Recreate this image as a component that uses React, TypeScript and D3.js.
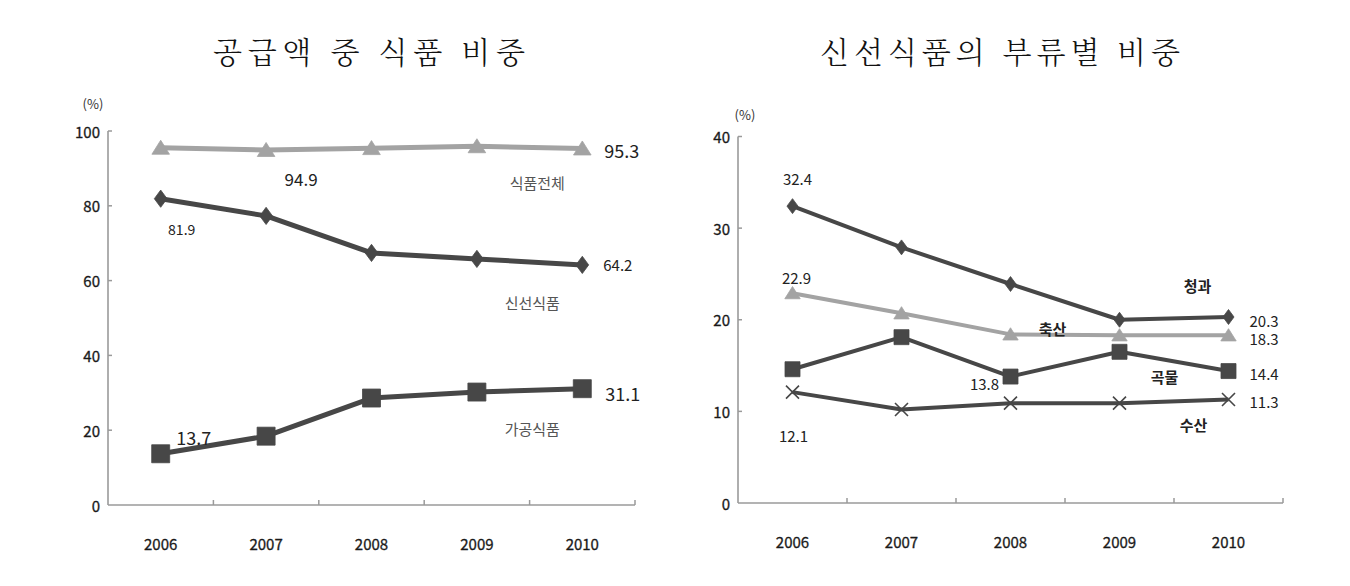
import React from "react";
import * as d3 from "d3";

const years = ["2006", "2007", "2008", "2009", "2010"];

// Left chart: 공급액 중 식품 비중
const totalFood = [95.5, 94.9, 95.4, 95.9, 95.3]; // 식품전체
const freshFood = [81.9, 77.3, 67.4, 65.8, 64.2]; // 신선식품
const processedFood = [13.7, 18.4, 28.6, 30.2, 31.1]; // 가공식품
const leftTicks = [0, 20, 40, 60, 80, 100];

// Right chart: 신선식품의 부류별 비중
const fruitVeg = [32.4, 27.9, 23.9, 20.0, 20.3]; // 청과
const livestock = [22.9, 20.7, 18.4, 18.3, 18.3]; // 축산
const grain = [14.6, 18.1, 13.8, 16.5, 14.4]; // 곡물
const seafood = [12.1, 10.2, 10.9, 10.9, 11.3]; // 수산
const rightTicks = [0, 10, 20, 30, 40];

const DARK = "#474747";
const LIGHT = "#a3a3a3";
const AXIS = "#9a9a9a";
const KFONT = "'Noto Sans CJK KR', 'Noto Sans', sans-serif";
const NFONT = "'Liberation Sans Narrow', 'Noto Sans CJK KR', sans-serif";

type Marker = "tri" | "dia" | "sq" | "x";

function markerPath(kind: Marker, cx: number, cy: number, s: number): string {
  const h = s / 2;
  switch (kind) {
    case "tri":
      return `M${cx},${cy - h * 0.95}L${cx + h * 1.1},${cy + h * 0.8}L${cx - h * 1.1},${cy + h * 0.8}Z`;
    case "dia":
      return `M${cx},${cy - h * 1.15}L${cx + h * 0.85},${cy}L${cx},${cy + h * 1.15}L${cx - h * 0.85},${cy}Z`;
    case "sq":
      return `M${cx - h},${cy - h}H${cx + h}V${cy + h}H${cx - h}Z`;
    case "x":
      return `M${cx - h},${cy - h}L${cx + h},${cy + h}M${cx + h},${cy - h}L${cx - h},${cy + h}`;
  }
}

interface SeriesDef {
  values: number[];
  color: string;
  marker: Marker;
  size: number;
  width: number;
}

function Axes({ x, y, ticks, x0, x1, y0, y1 }: any) {
  const bounds = years.map((yr: string) => (x(yr) as number) + x.bandwidth());
  return (
    <g>
      <line x1={x0} y1={y1} x2={x0} y2={y0} stroke={AXIS} strokeWidth={1.6} />
      <line x1={x0} y1={y0} x2={x1} y2={y0} stroke={AXIS} strokeWidth={1.6} />
      {ticks.map((t: number) => (
        <g key={t}>
          {t > 0 && <line x1={x0} x2={x0 + 4} y1={y(t)} y2={y(t)} stroke={AXIS} strokeWidth={1.5} />}
          <text x={x0 - 8} y={y(t)} textAnchor="end" dominantBaseline="central" fontSize={15} fontFamily={KFONT} fill="#1a1a1a" stroke="#1a1a1a" strokeWidth={0.3}>
            {t}
          </text>
        </g>
      ))}
      {bounds.map((bx: number, i: number) => (
        <line key={i} x1={bx} x2={bx} y1={y0} y2={y0 - 5} stroke={AXIS} strokeWidth={1.5} />
      ))}
      {years.map((yr: string) => (
        <text key={yr} x={(x(yr) as number) + x.bandwidth() / 2} y={y0 + 38} textAnchor="middle" dominantBaseline="central" fontSize={15} fontFamily={KFONT} fill="#1a1a1a" stroke="#1a1a1a" strokeWidth={0.3}>
          {yr}
        </text>
      ))}
    </g>
  );
}

function Series({ s, x, y }: { s: SeriesDef; x: any; y: any }) {
  const cx = (i: number) => (x(years[i]) as number) + x.bandwidth() / 2;
  const line = d3
    .line<number>()
    .x((_, i) => cx(i))
    .y((v) => y(v));
  return (
    <g>
      <path d={line(s.values) || ""} fill="none" stroke={s.color} strokeWidth={s.width} strokeLinejoin="round" />
      {s.values.map((v, i) =>
        s.marker === "x" ? (
          <path key={i} d={markerPath("x", cx(i), y(v), s.size)} stroke={s.color} strokeWidth={1.6} fill="none" />
        ) : (
          <path key={i} d={markerPath(s.marker, cx(i), y(v), s.size)} fill={s.color} stroke={s.color} strokeWidth={0.8} />
        )
      )}
    </g>
  );
}

export default function App() {
  // Left chart geometry
  const L = { x0: 108, x1: 635, y0: 505, y1: 131 };
  const xL = d3.scaleBand<string>().domain(years).range([L.x0, L.x1]).padding(0);
  const yL = d3.scaleLinear().domain([0, 100]).range([L.y0, L.y1]);
  const cxL = (i: number) => (xL(years[i]) as number) + xL.bandwidth() / 2;

  // Right chart geometry
  const R = { x0: 738, x1: 1283, y0: 503, y1: 136.5 };
  const xR = d3.scaleBand<string>().domain(years).range([R.x0, R.x1]).padding(0);
  const yR = d3.scaleLinear().domain([0, 40]).range([R.y0, R.y1]);
  const cxR = (i: number) => (xR(years[i]) as number) + xR.bandwidth() / 2;

  const leftSeries: SeriesDef[] = [
    { values: totalFood, color: LIGHT, marker: "tri", size: 16, width: 5 },
    { values: freshFood, color: DARK, marker: "dia", size: 15, width: 5 },
    { values: processedFood, color: DARK, marker: "sq", size: 18, width: 5 },
  ];
  const rightSeries: SeriesDef[] = [
    { values: livestock, color: LIGHT, marker: "tri", size: 14, width: 4 },
    { values: seafood, color: DARK, marker: "x", size: 13, width: 4 },
    { values: grain, color: DARK, marker: "sq", size: 15, width: 4 },
    { values: fruitVeg, color: DARK, marker: "dia", size: 13, width: 4 },
  ];

  const lbl = (props: any, txt: string) => (
    <text dominantBaseline="central" fill="#222" {...props}>
      {txt}
    </text>
  );

  return (
    <svg width={1350} height={586} style={{ position: "absolute", left: 0, top: 0, background: "#fff" }}>
      <rect width={1350} height={586} fill="#fff" />
      {/* Titles */}
      <text x={369} y={50} textAnchor="middle" dominantBaseline="central" fontSize={30} fontFamily="'Noto Serif CJK KR', 'Noto Sans CJK KR', serif" fontWeight={300} fill="#111" textLength={312} lengthAdjust="spacing">
        공급액 중 식품 비중
      </text>
      <text x={1000} y={50} textAnchor="middle" dominantBaseline="central" fontSize={30} fontFamily="'Noto Serif CJK KR', 'Noto Sans CJK KR', serif" fontWeight={300} fill="#111" textLength={360} lengthAdjust="spacing">
        신선식품의 부류별 비중
      </text>

      {/* Left chart */}
      <text x={93} y={103} textAnchor="middle" dominantBaseline="central" fontSize={13} fontFamily={KFONT} fill="#333">(%)</text>
      <Axes x={xL} y={yL} ticks={leftTicks} {...L} />
      {leftSeries.map((s, i) => (
        <Series key={i} s={s} x={xL} y={yL} />
      ))}
      {lbl({ x: cxL(4) + 22, y: yL(totalFood[4]) + 1, fontSize: 18, fontFamily: KFONT }, "95.3")}
      {lbl({ x: cxL(1) + 35, y: yL(totalFood[1]) + 28, fontSize: 17, fontFamily: KFONT, textAnchor: "middle" }, "94.9")}
      {lbl({ x: cxL(4) - 45, y: yL(totalFood[4]) + 34, fontSize: 15, fontFamily: KFONT, textAnchor: "middle", fill: "#555" }, "식품전체")}
      {lbl({ x: cxL(0) + 21, y: yL(freshFood[0]) + 30, fontSize: 14, fontFamily: KFONT, textAnchor: "middle" }, "81.9")}
      {lbl({ x: cxL(4) + 21, y: yL(freshFood[4]), fontSize: 15, fontFamily: KFONT }, "64.2")}
      {lbl({ x: cxL(4) - 50, y: yL(freshFood[4]) + 38, fontSize: 15, fontFamily: KFONT, textAnchor: "middle", fill: "#555" }, "신선식품")}
      {lbl({ x: cxL(0) + 33, y: yL(processedFood[0]) - 17, fontSize: 18, fontFamily: KFONT, textAnchor: "middle" }, "13.7")}
      {lbl({ x: cxL(4) + 23, y: yL(processedFood[4]) + 4, fontSize: 18, fontFamily: KFONT }, "31.1")}
      {lbl({ x: cxL(4) - 50, y: yL(processedFood[4]) + 40, fontSize: 15, fontFamily: KFONT, textAnchor: "middle", fill: "#555" }, "가공식품")}

      {/* Right chart */}
      <text x={745} y={114} textAnchor="middle" dominantBaseline="central" fontSize={13} fontFamily={KFONT} fill="#333">(%)</text>
      <Axes x={xR} y={yR} ticks={rightTicks} {...R} />
      {rightSeries.map((s, i) => (
        <Series key={i} s={s} x={xR} y={yR} />
      ))}
      {lbl({ x: cxR(0) + 5, y: yR(fruitVeg[0]) - 28, fontSize: 15, fontFamily: NFONT, textAnchor: "middle" }, "32.4")}
      {lbl({ x: cxR(0) + 4, y: yR(livestock[0]) - 16, fontSize: 15, fontFamily: NFONT, textAnchor: "middle" }, "22.9")}
      {lbl({ x: cxR(4) - 31, y: yR(fruitVeg[4]) - 32, fontSize: 15, fontFamily: KFONT, fontWeight: 700, textAnchor: "middle", fill: "#222" }, "청과")}
      {lbl({ x: cxR(4) + 21, y: yR(fruitVeg[4]) + 3, fontSize: 15, fontFamily: NFONT }, "20.3")}
      {lbl({ x: cxR(2) + 42, y: yR(livestock[2]) - 6, fontSize: 15, fontFamily: KFONT, fontWeight: 700, textAnchor: "middle", fill: "#222" }, "축산")}
      {lbl({ x: cxR(4) + 21, y: yR(livestock[4]) + 3, fontSize: 15, fontFamily: NFONT }, "18.3")}
      {lbl({ x: cxR(2) - 26, y: yR(grain[2]) + 7, fontSize: 15, fontFamily: NFONT, textAnchor: "middle" }, "13.8")}
      {lbl({ x: cxR(4) - 64, y: yR(grain[4]) + 5, fontSize: 15, fontFamily: KFONT, fontWeight: 700, textAnchor: "middle", fill: "#222" }, "곡물")}
      {lbl({ x: cxR(4) + 21, y: yR(grain[4]) + 2, fontSize: 15, fontFamily: NFONT }, "14.4")}
      {lbl({ x: cxR(4) + 21, y: yR(seafood[4]) + 2, fontSize: 15, fontFamily: NFONT }, "11.3")}
      {lbl({ x: cxR(4) - 35, y: yR(seafood[4]) + 25, fontSize: 15, fontFamily: KFONT, fontWeight: 700, textAnchor: "middle", fill: "#222" }, "수산")}
      {lbl({ x: cxR(0) + 1, y: yR(seafood[0]) + 43, fontSize: 15, fontFamily: NFONT, textAnchor: "middle" }, "12.1")}
    </svg>
  );
}
